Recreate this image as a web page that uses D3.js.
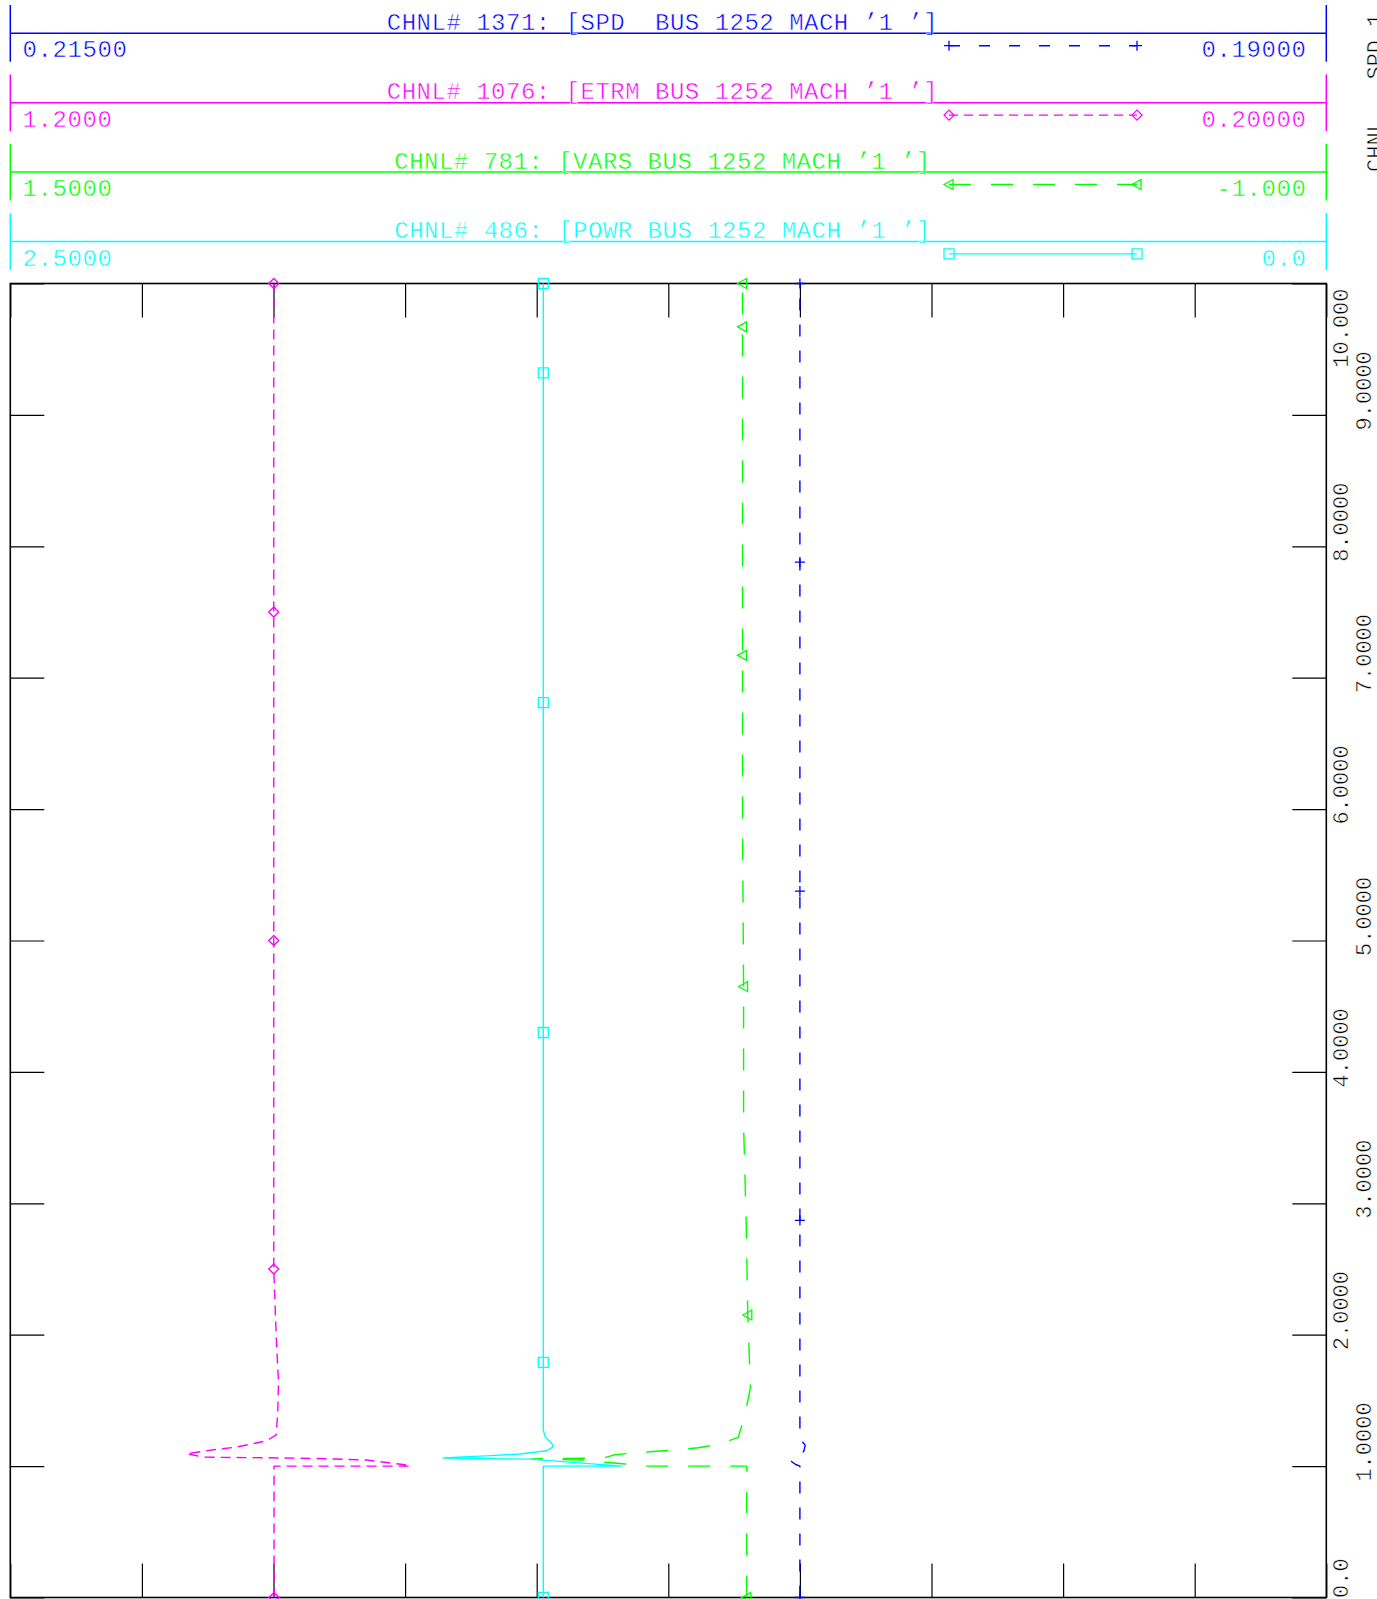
<!DOCTYPE html>
<html><head><meta charset="utf-8">
<script src="https://cdn.jsdelivr.net/npm/d3@7"></script>
<style>html,body{margin:0;padding:0;background:#fff;} svg{display:block;}
.thin{stroke:#fff;stroke-width:0.5px;paint-order:fill;}</style>
</head><body>
<svg id="chart" width="1377" height="1599"></svg>
<script>
// ---------------- data ----------------
const timeTicks = [0,1,2,3,4,5,6,7,8,9,10];
const timeTickLabels = ["0.0","1.0000","2.0000","3.0000","4.0000","5.0000","6.0000","7.0000","8.0000","9.0000","10.000"];
const gridDivisions = [0,1,2,3,4,5,6,7,8,9,10];

const channelTitles = [
  "CHNL# 1371: [SPD  BUS 1252 MACH \u20191 \u2019]",
  "CHNL# 1076: [ETRM BUS 1252 MACH \u20191 \u2019]",
  "CHNL# 781: [VARS BUS 1252 MACH \u20191 \u2019]",
  "CHNL# 486: [POWR BUS 1252 MACH \u20191 \u2019]"
];
const channelLeftLabels  = ["0.21500","1.2000","1.5000","2.5000"];
const channelRightLabels = ["0.19000","0.20000","-1.000","0.0"];
const channelLeftValues  = [0.215, 1.2, 1.5, 2.5];
const channelRightValues = [0.19, 0.2, -1.0, 0.0];
const channelColors = ["#0000ff","#ff00ff","#00ff00","#00ffff"];
const channelMarkers = ["plus","diamond","triangle","square"];

// SPD (channel 1371)
const spdTime  = [0, 1.0, 1.012, 1.035, 1.06, 1.086, 1.12, 1.16, 1.19, 1.22, 10];
const spdValue = [0.2, 0.2, 0.20008, 0.20016, 0.20006, 0.19997, 0.19992, 0.19990, 0.19996, 0.2, 0.2];
const spdMarks = [0, 2.87, 5.376, 7.88, 10];

// ETRM (channel 1076)
const etrmTime  = [0, 1.0, 1.0, 1.01, 1.046, 1.058, 1.063, 1.068, 1.094, 1.124, 1.145, 1.193, 1.238, 1.406, 1.635, 2.0, 2.5, 10];
const etrmValue = [0.9996, 0.9996, 0.896, 0.900, 0.929, 0.967, 1.003, 1.053, 1.066, 1.046, 1.028, 1.005, 0.998, 0.9968, 0.9962, 0.998, 0.9998, 0.9998];
const etrmMarks = [0, 2.5, 5.0, 7.5, 10];

// VARS (channel 781)
const varsTime  = [0, 1.0, 1.0, 1.016, 1.029, 1.046, 1.05, 1.055, 1.058, 1.06, 1.065, 1.084, 1.102, 1.113, 1.123, 1.14, 1.168, 1.219, 1.368, 1.516, 1.6, 2.15, 2.85, 3.6, 4.65, 5.9, 10];
const varsValue = [0.101, 0.101, 0.291, 0.332, 0.370, 0.408, 0.4495, 0.5095, 0.46, 0.40, 0.370, 0.3545, 0.313, 0.272, 0.234, 0.193, 0.152, 0.117, 0.106, 0.098, 0.094, 0.099, 0.102, 0.107, 0.107, 0.109, 0.109];
const varsMarks = [0, 2.15, 4.65, 7.17, 9.67, 10];

// POWR (channel 486)
const powrTime  = [0, 1.0, 1.0, 1.053, 1.062, 1.07, 1.078, 1.092, 1.117, 1.148, 1.174, 1.224, 1.275, 10];
const powrValue = [1.4875, 1.4875, 1.3385, 1.513, 1.6775, 1.64, 1.595, 1.532, 1.481, 1.4685, 1.4715, 1.484, 1.4875, 1.4875];
const powrMarks = [0, 1.79, 4.30, 6.81, 9.32, 10];

const seriesTimes  = [spdTime, etrmTime, varsTime, powrTime];
const seriesValues = [spdValue, etrmValue, varsValue, powrValue];
const seriesMarks  = [spdMarks, etrmMarks, varsMarks, powrMarks];

const sideCaption = "CHNL   SPD 1";

// ---------------- layout ----------------
const X0 = 10.3, X1 = 1326.3, Y0 = 283.5, Y1 = 1597.5;
const FONT = "'Liberation Mono', 'DejaVu Sans Mono', monospace";
const dashPlot   = ["12,14", "10,6", "22,20", null];
const dashLegend = ["11,19", "9,6", "22,20", null];

const svg = d3.select("#chart");
const ys = d3.scaleLinear().domain([0, 10]).range([Y1, Y0]);
const xg = d3.scaleLinear().domain([0, 10]).range([X0, X1]);
const xScales = channelLeftValues.map((l, i) =>
  d3.scaleLinear().domain([l, channelRightValues[i]]).range([X0, X1]));

function markerPath(type, x, y) {
  const s = 5;
  switch (type) {
    case "plus": return `M${x-s},${y}H${x+s}M${x},${y-s}V${y+s}`;
    case "diamond": return `M${x-s},${y}L${x},${y-s}L${x+s},${y}L${x},${y+s}Z`;
    case "triangle": return `M${x-s},${y}L${x+4},${y-s}L${x+4},${y+s}Z`;
    case "square": return `M${x-s},${y-s}H${x+s}V${y+s}H${x-s}Z`;
  }
}

// ---------------- legend header ----------------
channelTitles.forEach((title, i) => {
  const L = 33.3 + 69.4 * i;
  const c = channelColors[i];
  const g = svg.append("g");
  g.append("line").attr("x1", X0).attr("x2", X0).attr("y1", L - 28.3).attr("y2", L + 28.4)
    .attr("stroke", c).attr("stroke-width", 1.5);
  g.append("line").attr("x1", X1).attr("x2", X1).attr("y1", L - 28.3).attr("y2", L + 28.4)
    .attr("stroke", c).attr("stroke-width", 1.5);
  g.append("line").attr("x1", X0).attr("x2", X1).attr("y1", L).attr("y2", L)
    .attr("stroke", c).attr("stroke-width", 1.5);
  g.append("text").attr("class", "thin").attr("x", 662.5).attr("y", L - 3.5).attr("text-anchor", "middle")
    .attr("fill", c).style("font-family", FONT).style("font-size", "24px")
    .style("letter-spacing", "0.5px").style("white-space", "pre").text(title);
  g.append("text").attr("class", "thin").attr("x", 22.4).attr("y", L + 24).attr("fill", c)
    .style("font-family", FONT).style("font-size", "24px").style("letter-spacing", "0.6px")
    .text(channelLeftLabels[i]);
  g.append("text").attr("class", "thin").attr("x", 1306.5).attr("y", L + 24).attr("text-anchor", "end").attr("fill", c)
    .style("font-family", FONT).style("font-size", "24px").style("letter-spacing", "0.6px")
    .text(channelRightLabels[i]);
  // sample line
  const sy = L + 12.4, sx0 = 949, sx1 = 1137;
  const ln = g.append("line").attr("x1", sx0).attr("x2", sx1).attr("y1", sy).attr("y2", sy)
    .attr("stroke", c).attr("stroke-width", 1.4);
  if (dashLegend[i]) ln.attr("stroke-dasharray", dashLegend[i]);
  [sx0, sx1].forEach(mx => g.append("path").attr("d", markerPath(channelMarkers[i], mx, sy))
    .attr("fill", "none").attr("stroke", c).attr("stroke-width", 1.3));
});

// ---------------- plot frame & ticks ----------------
const frame = svg.append("g");
const tickLen = 34;
const axL = frame.append("g").attr("transform", `translate(${X0},0)`)
  .call(d3.axisRight(ys).tickValues(timeTicks).tickSize(tickLen).tickSizeOuter(0).tickFormat(""));
const axR = frame.append("g").attr("transform", `translate(${X1},0)`)
  .call(d3.axisLeft(ys).tickValues(timeTicks).tickSize(tickLen).tickSizeOuter(0).tickFormat(""));
const axT = frame.append("g").attr("transform", `translate(0,${Y0})`)
  .call(d3.axisBottom(xg).tickValues(gridDivisions).tickSize(tickLen).tickSizeOuter(0).tickFormat(""));
const axB = frame.append("g").attr("transform", `translate(0,${Y1})`)
  .call(d3.axisTop(xg).tickValues(gridDivisions).tickSize(tickLen).tickSizeOuter(0).tickFormat(""));
[axL, axR, axT, axB].forEach(a => {
  a.select(".domain").remove();
  a.selectAll(".tick line").attr("stroke", "#000").attr("stroke-width", 1.2);
});
frame.append("rect").attr("x", X0).attr("y", Y0).attr("width", X1 - X0).attr("height", Y1 - Y0)
  .attr("fill", "none").attr("stroke", "#000").attr("stroke-width", 1.6);

// right-hand time labels (rotated)
const labG = svg.append("g");
timeTicks.forEach((t, i) => {
  const bx = (t % 2 === 0) ? 1348 : 1370.5;
  const txt = labG.append("text").attr("class", "thin").attr("fill", "#000")
    .style("font-family", FONT).style("font-size", "22px").text(timeTickLabels[i]);
  const len = txt.node().getComputedTextLength();
  let bottom = ys(t) + 15.5;
  if (bottom > Y1 + 0.5) bottom = Y1 + 0.5;
  if (bottom - len < Y0 + 5) bottom = Y0 + 5 + len;
  txt.attr("transform", `translate(${bx},${bottom}) rotate(-90)`);
});

// clipped side caption at the page edge
svg.append("text").attr("class", "thin").attr("transform", "translate(1382,172) rotate(-90)")
  .attr("fill", "#000").style("font-family", FONT).style("font-size", "22px")
  .style("white-space", "pre").text(sideCaption);

// ---------------- curves ----------------
const plotG = svg.append("g");
seriesTimes.forEach((times, i) => {
  const xs = xScales[i];
  const data = times.map((t, k) => ({ t, v: seriesValues[i][k] }));
  const p = plotG.append("path").datum(data).attr("d", d3.line().x(d => xs(d.v)).y(d => ys(d.t)))
    .attr("fill", "none").attr("stroke", channelColors[i]).attr("stroke-width", 1.4)
    .attr("stroke-linejoin", "round");
  if (dashPlot[i]) p.attr("stroke-dasharray", dashPlot[i]);
  // markers, value interpolated from the series
  const bis = d3.bisector(d => d).right;
  seriesMarks[i].forEach(mt => {
    let k = Math.min(Math.max(bis(times, mt), 1), times.length - 1);
    const t0 = times[k - 1], t1 = times[k];
    const v0 = seriesValues[i][k - 1], v1 = seriesValues[i][k];
    const v = t1 === t0 ? v1 : v0 + (v1 - v0) * (mt - t0) / (t1 - t0);
    plotG.append("path").attr("d", markerPath(channelMarkers[i], xs(v), ys(mt)))
      .attr("fill", "none").attr("stroke", channelColors[i]).attr("stroke-width", 1.3);
  });
});
</script>
</body></html>
